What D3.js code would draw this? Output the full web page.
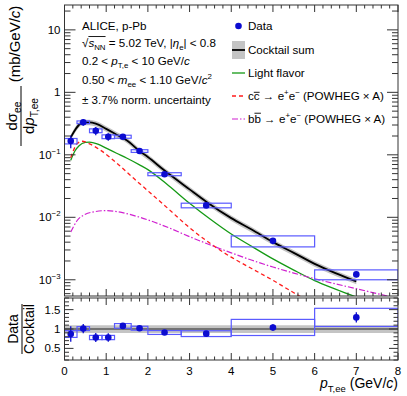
<!DOCTYPE html>
<meta charset="utf-8">
<body style="margin:0;background:#fff">
<svg id="chart"></svg>
<script src="https://d3js.org/d3.v7.min.js"></script>
<script>
// measured spectrum, 10 pT bins
var binEdges = [0, 0.3, 0.6, 0.9, 1.2, 1.6, 2.0, 2.8, 4.0, 6.0, 8.0];
var dataPt   = [0.15, 0.45, 0.75, 1.05, 1.4, 1.8, 2.4, 3.4, 5.0, 7.0];
var dataVal  = [0.166, 0.332, 0.243, 0.195, 0.195, 0.115, 0.049, 0.0155, 0.0042, 0.00122];
var statRel  = [0.23, 0.12, 0.15, 0.14, 0.05, 0.04, 0.04, 0.04, 0.08, 0.10];
var sysRel   = [0.10, 0.05, 0.07, 0.07, 0.055, 0.05, 0.055, 0.085, 0.20, 0.18];
var ratioVal = [0.87, 1.01, 0.78, 0.78, 1.08, 1.02, 0.91, 0.88, 1.04, 1.30];

// cocktail sum and components
var cocktailPt  = [0.15, 0.45, 0.6, 0.75, 1.0, 1.25, 1.5, 1.8, 2.0, 2.4, 3.0, 3.4, 4.0, 4.5, 5.0, 5.5, 6.0, 6.5, 7.0];
var cocktailVal = [0.19, 0.33, 0.33, 0.315, 0.26, 0.21, 0.17, 0.115, 0.092, 0.056, 0.028, 0.0178, 0.0097, 0.0063, 0.0040, 0.0027, 0.0018, 0.00128, 0.00094];
var cocktailRel = [0.1, 0.1, 0.1, 0.1, 0.1, 0.1, 0.1, 0.1, 0.1, 0.1, 0.1, 0.1, 0.1, 0.1, 0.1, 0.1, 0.1, 0.1, 0.1];

var lfPt  = [0.15, 0.25, 0.35, 0.5, 0.6, 0.8, 1.0, 1.25, 1.5, 1.8, 2.0, 2.5, 3.0, 3.5, 4.0, 4.5, 5.0, 5.5, 6.0, 6.5, 7.0];
var lfVal = [0.082, 0.115, 0.14, 0.158, 0.16, 0.148, 0.128, 0.106, 0.088, 0.069, 0.058, 0.032, 0.0168, 0.0093, 0.0054, 0.0034, 0.00216, 0.00143, 0.00097, 0.00071, 0.00053];

var ccPt  = [0.15, 0.3, 0.42, 0.6, 0.86, 1.26, 1.66, 2.06, 2.5, 3.0, 3.5, 4.0, 4.5, 5.0, 5.5, 6.0];
var ccVal = [0.09, 0.15, 0.165, 0.15, 0.119, 0.073, 0.042, 0.0245, 0.0135, 0.0068, 0.0038, 0.0023, 0.0015, 0.00098, 0.00062, 0.0004];

var bbPt  = [0.15, 0.3, 0.5, 0.7, 1.0, 1.3, 1.7, 2.0, 2.5, 3.0, 3.5, 4.0, 4.5, 5.0, 5.5, 6.0, 6.5, 7.0, 7.5, 8.0];
var bbVal = [0.0058, 0.0088, 0.0112, 0.0122, 0.0128, 0.0122, 0.0105, 0.0091, 0.0068, 0.0049, 0.0036, 0.0027, 0.00205, 0.0016, 0.00128, 0.00104, 0.00086, 0.00072, 0.0006, 0.0005];

var yMajor = [0.001, 0.01, 0.1, 1, 10];
var yMajorLabel = [["10", "\u22123"], ["10", "\u22122"], ["10", "\u22121"], ["1", ""], ["10", ""]];
var rMajor = [0.5, 1, 1.5];

var W = 407, H = 396, FONT = "Liberation Sans, Arial, Helvetica, sans-serif";
var svg = d3.select("#chart").attr("width", W).attr("height", H)
    .style("font-family", FONT);

var x  = d3.scaleLinear().domain([0, 8]).range([64.5, 398]);
var y  = d3.scaleLog().domain([5.5e-4, 25]).range([296, 5]);
var yr = d3.scaleLinear().domain([0.2, 1.8]).range([360, 298]);

var BLUE = "#0c0cd0", BOX = "#5a5aff";

svg.append("clipPath").attr("id", "clipMain").append("rect")
    .attr("x", x(0)).attr("y", y.range()[1]).attr("width", x(8) - x(0)).attr("height", y.range()[0] - y.range()[1]);
svg.append("clipPath").attr("id", "clipRatio").append("rect")
    .attr("x", x(0)).attr("y", yr.range()[1]).attr("width", x(8) - x(0)).attr("height", yr.range()[0] - yr.range()[1]);

// text with sub/superscripts: parts = [[str, flags]], flags: i italic, _ sub, ^ sup
function rich(sel, parts, fs) {
  parts.forEach(function(p) {
    var k = p[1] || "";
    var t = sel.append("tspan").text(p[0]);
    if (k.indexOf("i") >= 0) t.attr("font-style", "italic");
    if (k.indexOf("_") >= 0) t.attr("font-size", fs * 0.68).attr("baseline-shift", (-fs * 0.28) + "px");
    if (k.indexOf("^") >= 0) t.attr("font-size", fs * 0.68).attr("baseline-shift", (fs * 0.42) + "px");
  });
  return sel;
}
function overline(textSel, from, to, yy, parent) {
  var n = textSel.node();
  var a = n.getStartPositionOfChar(from).x, b = n.getEndPositionOfChar(to).x;
  (parent || svg).append("line").attr("x1", a).attr("x2", b).attr("y1", yy).attr("y2", yy)
    .attr("stroke", "#000").attr("stroke-width", 0.9);
}

// ---------- main panel ----------
var main = svg.append("g");
var plot = main.append("g").attr("clip-path", "url(#clipMain)");

var band = d3.area()
    .x(function(d, i) { return x(cocktailPt[i]); })
    .y0(function(d, i) { return y(d * (1 - cocktailRel[i])); })
    .y1(function(d, i) { return y(d * (1 + cocktailRel[i])); })
    .curve(d3.curveMonotoneX);
plot.append("path").datum(cocktailVal).attr("d", band).attr("fill", "#c4c4c4");

function curve(pts, vals) {
  return d3.line().x(function(d, i) { return x(pts[i]); }).y(function(d) { return y(d); })
      .curve(d3.curveMonotoneX)(vals);
}
plot.append("path").attr("d", curve(lfPt, lfVal)).attr("fill", "none").attr("stroke", "#159a15").attr("stroke-width", 1.3);
plot.append("path").attr("d", curve(ccPt, ccVal)).attr("fill", "none").attr("stroke", "#ff1c1c").attr("stroke-width", 1.3).attr("stroke-dasharray", "4,3");
plot.append("path").attr("d", curve(bbPt, bbVal)).attr("fill", "none").attr("stroke", "#d020d0").attr("stroke-width", 1.2).attr("stroke-dasharray", "6,2,1.5,2");
plot.append("path").attr("d", curve(cocktailPt, cocktailVal)).attr("fill", "none").attr("stroke", "#000").attr("stroke-width", 1.8);

// systematic boxes
plot.selectAll("rect.sys").data(dataVal).enter().append("rect")
    .attr("x", function(d, i) { return x(binEdges[i]); })
    .attr("width", function(d, i) { return x(binEdges[i + 1]) - x(binEdges[i]); })
    .attr("y", function(d, i) { return y(d * (1 + sysRel[i])); })
    .attr("height", function(d, i) { return y(d * (1 - sysRel[i])) - y(d * (1 + sysRel[i])); })
    .attr("fill", "none").attr("stroke", BOX).attr("stroke-width", 1.2);
plot.selectAll("line.stat").data(dataVal).enter().append("line")
    .attr("x1", function(d, i) { return x(dataPt[i]); }).attr("x2", function(d, i) { return x(dataPt[i]); })
    .attr("y1", function(d, i) { return y(d * (1 + statRel[i])); })
    .attr("y2", function(d, i) { return y(d * (1 - statRel[i])); })
    .attr("stroke", BLUE).attr("stroke-width", 1.3);
plot.selectAll("circle").data(dataVal).enter().append("circle")
    .attr("cx", function(d, i) { return x(dataPt[i]); }).attr("cy", function(d) { return y(d); })
    .attr("r", 3.3).attr("fill", BLUE);

// ---------- ratio panel ----------
var rp = svg.append("g").attr("clip-path", "url(#clipRatio)");
var ratioBandX = [0].concat(cocktailPt, [8]);
var ratioBandE = [cocktailRel[0]].concat(cocktailRel, [cocktailRel[cocktailRel.length - 1]]);
rp.append("path").datum(ratioBandE)
    .attr("d", d3.area().x(function(d, i) { return x(ratioBandX[i]); })
      .y0(function(d) { return yr(1 - d); }).y1(function(d) { return yr(1 + d); }))
    .attr("fill", "#c4c4c4");
rp.append("line").attr("x1", x(0)).attr("x2", x(8)).attr("y1", yr(1)).attr("y2", yr(1))
    .attr("stroke", "#222").attr("stroke-width", 1.2);
rp.selectAll("rect.sys").data(ratioVal).enter().append("rect")
    .attr("x", function(d, i) { return x(binEdges[i]); })
    .attr("width", function(d, i) { return x(binEdges[i + 1]) - x(binEdges[i]); })
    .attr("y", function(d, i) { return yr(d * (1 + sysRel[i])); })
    .attr("height", function(d, i) { return yr(d * (1 - sysRel[i])) - yr(d * (1 + sysRel[i])); })
    .attr("fill", "none").attr("stroke", BOX).attr("stroke-width", 1.2);
rp.selectAll("line.stat").data(ratioVal).enter().append("line")
    .attr("x1", function(d, i) { return x(dataPt[i]); }).attr("x2", function(d, i) { return x(dataPt[i]); })
    .attr("y1", function(d, i) { return yr(d * (1 + statRel[i])); })
    .attr("y2", function(d, i) { return yr(d * (1 - statRel[i])); })
    .attr("stroke", BLUE).attr("stroke-width", 1.3);
rp.selectAll("circle").data(ratioVal).enter().append("circle")
    .attr("cx", function(d, i) { return x(dataPt[i]); }).attr("cy", function(d) { return yr(d); })
    .attr("r", 3.3).attr("fill", BLUE);

// ---------- frames and ticks ----------
var AX = "#333";
function frame(y0, y1) {
  svg.append("rect").attr("x", x(0)).attr("y", y1).attr("width", x(8) - x(0)).attr("height", y0 - y1)
    .attr("fill", "none").attr("stroke", AX).attr("stroke-width", 1);
}
function tick(x1, y1, x2, y2) {
  svg.append("line").attr("x1", x1).attr("y1", y1).attr("x2", x2).attr("y2", y2)
    .attr("stroke", AX).attr("stroke-width", 1);
}
frame(y.range()[0], y.range()[1]);
frame(yr.range()[0], yr.range()[1]);

var xMinor = x.ticks(40);
xMinor.forEach(function(v) {
  var major = Math.abs(v - Math.round(v)) < 1e-6;
  var L = major ? 7 : 3.5;
  [[y.range()[0], -1], [y.range()[1], 1], [yr.range()[0], -1], [yr.range()[1], 1]].forEach(function(e) {
    tick(x(v), e[0], x(v), e[0] + e[1] * L);
  });
});
y.ticks().forEach(function(v) {
  var lg = Math.log10(v), major = Math.abs(lg - Math.round(lg)) < 1e-6;
  var L = major ? 11 : 6;
  tick(x(0), y(v), x(0) + L, y(v));
  tick(x(8), y(v), x(8) - L, y(v));
});
yr.ticks(16).forEach(function(v) {
  var major = rMajor.some(function(m) { return Math.abs(m - v) < 1e-6; });
  var L = major ? 9 : 4.5;
  tick(x(0), yr(v), x(0) + L, yr(v));
  tick(x(8), yr(v), x(8) - L, yr(v));
});

// tick labels
var TFS = 11.5;
yMajor.forEach(function(v, i) {
  var t = svg.append("text").attr("x", 60.5).attr("y", y(v) + 4).attr("text-anchor", "end").attr("font-size", TFS);
  rich(t, [[yMajorLabel[i][0], ""], [yMajorLabel[i][1], "^"]], TFS);
});
rMajor.forEach(function(v) {
  svg.append("text").attr("x", 60.5).attr("y", yr(v) + 4).attr("text-anchor", "end").attr("font-size", TFS).text(v);
});
x.ticks(8).forEach(function(v) {
  svg.append("text").attr("x", x(v)).attr("y", 374.5).attr("text-anchor", "middle").attr("font-size", TFS).text(v);
});

// axis titles
var xt = svg.append("text").attr("x", 398).attr("y", 388).attr("text-anchor", "end").attr("font-size", 14);
rich(xt, [["p", "i"], ["T,ee", "_"], [" (GeV/", ""], ["c", "i"], [")", ""]], 14);

var yt = svg.append("g").attr("transform", "translate(21,116) rotate(-90)").attr("font-size", 15);
rich(yt.append("text").attr("x", 0).attr("y", -4.5).attr("text-anchor", "middle"), [["d\u03c3", ""], ["ee", "_"]], 15);
yt.append("line").attr("x1", -30).attr("x2", 30).attr("y1", 0).attr("y2", 0).attr("stroke", "#000").attr("stroke-width", 1);
rich(yt.append("text").attr("x", 0).attr("y", 13).attr("text-anchor", "middle"), [["d", ""], ["p", "i"], ["T,ee", "_"]], 15);
rich(yt.append("text").attr("x", 72).attr("y", -1).attr("text-anchor", "middle"), [["(mb/GeV/", ""], ["c", "i"], [")", ""]], 15);

var rt = svg.append("g").attr("transform", "translate(22,329) rotate(-90)").attr("font-size", 14);
rt.append("text").attr("x", 0).attr("y", -4).attr("text-anchor", "middle").text("Data");
rt.append("line").attr("x1", -25).attr("x2", 25).attr("y1", 0).attr("y2", 0).attr("stroke", "#000").attr("stroke-width", 1);
rt.append("text").attr("x", 0).attr("y", 12).attr("text-anchor", "middle").text("Cocktail");

// ---------- labels ----------
var FS = 11.6;
function label(xx, yy, parts) {
  var t = svg.append("text").attr("x", xx).attr("y", yy).attr("font-size", FS);
  return rich(t, parts, FS);
}
label(82, 30.2, [["ALICE, p-Pb", ""]]);
var sq = label(82, 46.5, [["\u221a", ""], ["s", "i"], ["NN", "_"], [" = 5.02 TeV, |", ""], ["\u03b7", "i"], ["e", "_"], ["| < 0.8", ""]]);
overline(sq, 1, 3, 46.5 - FS * 0.86);
label(82, 65, [["0.2 < ", ""], ["p", "i"], ["T,e", "_"], [" < 10 GeV/", ""], ["c", "i"]]);
label(82, 83.5, [["0.50 < ", ""], ["m", "i"], ["ee", "_"], [" < 1.10 GeV/", ""], ["c", "i"], ["2", "^"]]);
label(82, 103.5, [["\u00b1 3.7% norm. uncertainty", ""]]);

// legend
var LX0 = 232, LX1 = 245, TX = 248;
svg.append("circle").attr("cx", 238.5).attr("cy", 26).attr("r", 3.3).attr("fill", BLUE);
label(TX, 30.2, [["Data", ""]]);
svg.append("rect").attr("x", LX0).attr("y", 41).attr("width", LX1 - LX0).attr("height", 18).attr("fill", "#c4c4c4");
svg.append("line").attr("x1", LX0).attr("x2", LX1).attr("y1", 50).attr("y2", 50).attr("stroke", "#000").attr("stroke-width", 1.8);
label(TX, 54.2, [["Cocktail sum", ""]]);
svg.append("line").attr("x1", LX0).attr("x2", LX1).attr("y1", 73).attr("y2", 73).attr("stroke", "#159a15").attr("stroke-width", 1.3);
label(TX, 77.2, [["Light flavor", ""]]);
svg.append("line").attr("x1", LX0).attr("x2", LX1).attr("y1", 96).attr("y2", 96).attr("stroke", "#ff1c1c").attr("stroke-width", 1.3).attr("stroke-dasharray", "4,3");
var cc = label(TX, 100.2, [["cc \u2192 e", ""], ["+", "^"], ["e", ""], ["\u2212", "^"], [" (POWHEG \u00d7 A)", ""]]);
overline(cc, 1, 1, 100.2 - FS * 0.68);
svg.append("line").attr("x1", LX0).attr("x2", LX1).attr("y1", 119).attr("y2", 119).attr("stroke", "#d020d0").attr("stroke-width", 1.2).attr("stroke-dasharray", "6,2,1.5,2");
var bb = label(TX, 123.2, [["bb \u2192 e", ""], ["+", "^"], ["e", ""], ["\u2212", "^"], [" (POWHEG \u00d7 A)", ""]]);
overline(bb, 1, 1, 123.2 - FS * 0.86);
</script>
</body>
